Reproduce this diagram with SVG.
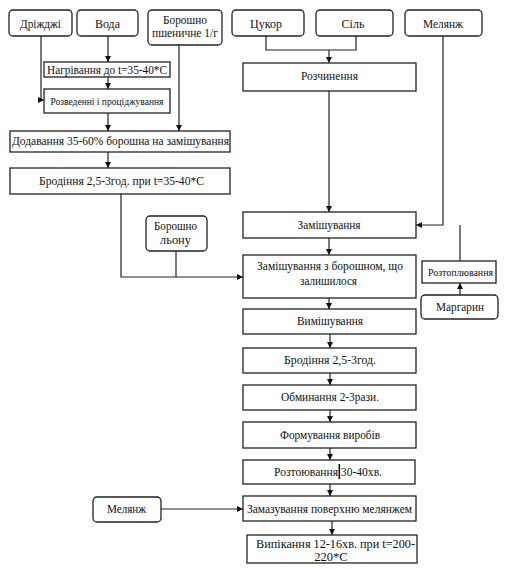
<svg xmlns="http://www.w3.org/2000/svg" width="507" height="569" viewBox="0 0 507 569">
<style>
.r{fill:#fff;stroke:#222;stroke-width:1.3}
.t{font-family:'Liberation Serif','Times New Roman','DejaVu Serif',serif;font-size:12px;fill:#111;text-anchor:middle}
.c{fill:none;stroke:#222;stroke-width:1.2}
</style>
<defs>
<marker id="a" viewBox="0 0 6 6" refX="6" refY="3" markerWidth="6" markerHeight="6" orient="auto" markerUnits="userSpaceOnUse">
<path d="M0,0 L6,3 L0,6 z" fill="#111"/>
</marker>
</defs>
<rect width="507" height="569" fill="#fff"/>
<g id="connectors">
<path class="c" d="M41,36 V100 H44" marker-end="url(#a)"/>
<path class="c" d="M108,36 V62" marker-end="url(#a)"/>
<path class="c" d="M108,77 V89" marker-end="url(#a)"/>
<path class="c" d="M108,113 V131" marker-end="url(#a)"/>
<path class="c" d="M179,45 V131" marker-end="url(#a)"/>
<path class="c" d="M108,152 V168" marker-end="url(#a)"/>
<path class="c" d="M121,194 V277 H243" marker-end="url(#a)"/>
<path class="c" d="M176,251 V277"/>
<path class="c" d="M266,36 V50 H356 V36"/>
<path class="c" d="M329,50 V63" marker-end="url(#a)"/>
<path class="c" d="M329,91 V212" marker-end="url(#a)"/>
<path class="c" d="M443,36 V225 H416" marker-end="url(#a)"/>
<path class="c" d="M460,261 V225"/>
<path class="c" d="M460,295 V283" marker-end="url(#a)"/>
<path class="c" d="M329,238 V255" marker-end="url(#a)"/>
<path class="c" d="M329,298 V309" marker-end="url(#a)"/>
<path class="c" d="M330,334 V348" marker-end="url(#a)"/>
<path class="c" d="M330,373 V385" marker-end="url(#a)"/>
<path class="c" d="M330,410 V422" marker-end="url(#a)"/>
<path class="c" d="M330,448 V460" marker-end="url(#a)"/>
<path class="c" d="M330,484 V496" marker-end="url(#a)"/>
<path class="c" d="M332,521 V535" marker-end="url(#a)"/>
<path class="c" d="M161,509 H243" marker-end="url(#a)"/>
</g>
<g id="n-drizhdzhi"><rect class="r" x="9" y="10" width="63" height="26" rx="4"/><text class="t" x="40.5" y="28" textLength="41" lengthAdjust="spacingAndGlyphs">Дріжджі</text></g>
<g id="n-voda"><rect class="r" x="77" y="10" width="61" height="26" rx="4"/><text class="t" x="107.5" y="28">Вода</text></g>
<g id="n-boroshno"><rect class="r" x="148" y="10" width="74" height="35" rx="4"/><text class="t" x="185" y="24" textLength="44" lengthAdjust="spacingAndGlyphs">Борошно</text><text class="t" x="185" y="37" textLength="66" lengthAdjust="spacingAndGlyphs">пшеничне 1/г</text></g>
<g id="n-tsukor"><rect class="r" x="232" y="10" width="72" height="26" rx="4"/><text class="t" x="266" y="28">Цукор</text></g>
<g id="n-sil"><rect class="r" x="316" y="10" width="77" height="26" rx="4"/><text class="t" x="353" y="28">Сіль</text></g>
<g id="n-melanzh1"><rect class="r" x="405" y="10" width="77" height="26" rx="4"/><text class="t" x="443" y="28" textLength="40" lengthAdjust="spacingAndGlyphs">Мелянж</text></g>
<g id="n-nahrivannia"><rect class="r" x="44" y="62" width="126" height="15"/><text class="t" x="107" y="74" textLength="120" lengthAdjust="spacingAndGlyphs">Нагрівання до t=35-40*С</text></g>
<g id="n-rozvedennia"><rect class="r" x="44" y="89" width="126" height="24"/><text class="t" x="107" y="105" style="font-size:11px" textLength="113" lengthAdjust="spacingAndGlyphs">Розведенні і проціджування</text></g>
<g id="n-dodavannia"><rect class="r" x="10" y="131" width="220" height="21"/><text class="t" x="120.5" y="145" textLength="217" lengthAdjust="spacingAndGlyphs">Додавання 35-60% борошна на замішування</text></g>
<g id="n-brodinnia1"><rect class="r" x="10" y="168" width="220" height="26"/><text class="t" x="121.5" y="185" textLength="165" lengthAdjust="spacingAndGlyphs">Бродіння 2,5-3год. при  t=35-40*С</text></g>
<g id="n-rozchynennia"><rect class="r" x="243" y="63" width="173" height="28"/><text class="t" x="329.5" y="80" textLength="57" lengthAdjust="spacingAndGlyphs">Розчинення</text></g>
<g id="n-boroshno-lonu"><rect class="r" x="146" y="216" width="61" height="35" rx="4"/><text class="t" x="175.5" y="230" textLength="43" lengthAdjust="spacingAndGlyphs">Борошно</text><text class="t" x="175.5" y="244" textLength="31" lengthAdjust="spacingAndGlyphs">льону</text></g>
<g id="n-zamishuvannia"><rect class="r" x="243" y="212" width="173" height="26"/><text class="t" x="329" y="229" textLength="63" lengthAdjust="spacingAndGlyphs">Замішування</text></g>
<g id="n-zamishuvannia2"><rect class="r" x="243" y="255" width="173" height="43"/><text class="t" x="330" y="270" textLength="146" lengthAdjust="spacingAndGlyphs">Замішування з борошном, що</text><text class="t" x="328.5" y="285" textLength="57" lengthAdjust="spacingAndGlyphs">залишилося</text></g>
<g id="n-roztopl"><rect class="r" x="422" y="261" width="74" height="22"/><text class="t" x="460.5" y="276" style="font-size:11px" textLength="65" lengthAdjust="spacingAndGlyphs">Розтоплювання</text></g>
<g id="n-marharyn"><rect class="r" x="421" y="295" width="77" height="24" rx="4"/><text class="t" x="460" y="311" textLength="48" lengthAdjust="spacingAndGlyphs">Маргарин</text></g>
<g id="n-vymishuvannia"><rect class="r" x="243" y="309" width="173" height="25"/><text class="t" x="330" y="325" textLength="66" lengthAdjust="spacingAndGlyphs">Вимішування</text></g>
<g id="n-brodinnia2"><rect class="r" x="243" y="348" width="173" height="25"/><text class="t" x="330" y="364" textLength="92" lengthAdjust="spacingAndGlyphs">Бродіння 2,5-3год.</text></g>
<g id="n-obmynannia"><rect class="r" x="243" y="385" width="173" height="25"/><text class="t" x="330" y="401" textLength="98" lengthAdjust="spacingAndGlyphs">Обминання 2-3рази.</text></g>
<g id="n-formuvannia"><rect class="r" x="243" y="422" width="173" height="26"/><text class="t" x="330" y="439" textLength="100" lengthAdjust="spacingAndGlyphs">Формування виробів</text></g>
<g id="n-roztoiuvannia"><rect class="r" x="243" y="460" width="172" height="24"/><text class="t" x="328" y="476" textLength="108" lengthAdjust="spacingAndGlyphs">Розтоювання 30-40хв.</text><rect x="338.5" y="464" width="1.6" height="15" fill="#111"/></g>
<g id="n-zamazuvannia"><rect class="r" x="243" y="496" width="173" height="25"/><text class="t" x="329.5" y="513" textLength="165" lengthAdjust="spacingAndGlyphs">Замазування поверхню мелянжем</text></g>
<g id="n-melanzh2"><rect class="r" x="93" y="497" width="68" height="25" rx="4"/><text class="t" x="126.5" y="513" textLength="39" lengthAdjust="spacingAndGlyphs">Мелянж</text></g>
<g id="n-vypikannia"><rect class="r" x="247" y="535" width="170" height="28"/><text class="t" x="335.5" y="548" textLength="159" lengthAdjust="spacingAndGlyphs">Випікання 12-16хв. при  t=200-</text><text class="t" x="331" y="561" style="font-size:12.5px">220*С</text></g>
</svg>
